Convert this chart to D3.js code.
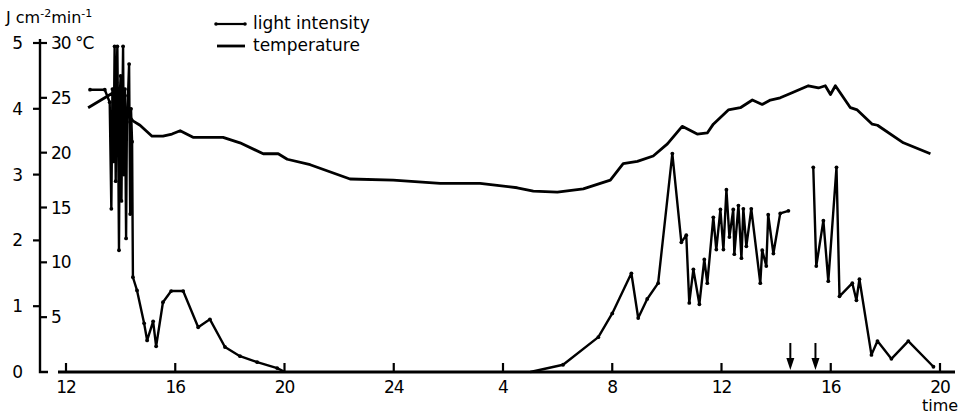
<!DOCTYPE html>
<meta charset="utf-8">
<title>light and temperature</title>
<script src="https://cdn.jsdelivr.net/npm/d3@7"></script>
<style>
  body { margin: 0; background: #fff; }
  text { font-family: "DejaVu Sans", sans-serif; fill: #000; }
</style>
<body>
<script>

// hours counted from noon of day 1 (12 .. 44)
var xTicks = [12, 16, 20, 24, 28, 32, 36, 40, 44];
var lightTicks = [0, 1, 2, 3, 4, 5];
var tempTicks = [5, 10, 15, 20, 25, 30];

// temperature, degrees C
var tempTime = [12.81, 13.68, 14.45, 14.71, 15.15, 15.55, 15.88, 16.18, 16.65, 17.75, 18.37,
  19.22, 19.77, 20.10, 20.94, 22.40, 23.98, 25.70, 27.16, 28.52, 29.11, 29.99, 30.94, 31.93,
  32.40, 32.92, 33.50, 34.02, 34.56, 35.11, 35.48, 35.70, 36.25, 36.69, 37.13, 37.49, 37.79,
  38.15, 38.52, 39.18, 39.55, 39.80, 39.99, 40.17, 40.72, 40.97, 41.52, 41.71, 42.66, 43.65];
var tempValue = [24.1, 25.4, 22.9, 22.5, 21.5, 21.5, 21.7, 22.0, 21.4, 21.4, 20.9,
  19.9, 19.9, 19.4, 18.9, 17.6, 17.5, 17.2, 17.2, 16.8, 16.5, 16.4, 16.7, 17.5,
  19.0, 19.2, 19.7, 20.8, 22.4, 21.7, 21.8, 22.6, 23.9, 24.1, 24.8, 24.4, 24.8,
  25.0, 25.4, 26.1, 25.9, 26.1, 25.3, 26.1, 24.1, 23.9, 22.6, 22.5, 20.9, 19.9];

// light intensity, J cm-2 min-1 (null = no record)
var lightTime = [12.88, 13.42, 13.60, 13.66, 13.70, 13.74, 13.78, 13.82, 13.85, 13.88, 13.91,
  13.94, 13.97, 14.00, 14.03, 14.06, 14.09, 14.12, 14.16, 14.20, 14.23, 14.27, 14.31, 14.35,
  14.38, 14.42, 14.45, 14.60, 14.86, 14.97, 15.19, 15.30,
  15.55, 15.85, 16.29, 16.84, 17.27, 17.82, 18.37, 19.00, 19.73, 20.02,
  24.5,
  29.0, 30.2, 31.49, 32.0, 32.70, 32.95, 33.28, 33.68, 34.20, 34.53, 34.71, 34.82, 34.97,
  35.19, 35.37, 35.48, 35.70, 35.81, 35.96, 36.07, 36.18, 36.29, 36.43, 36.47, 36.62, 36.73,
  36.80, 36.91, 37.09, 37.42, 37.49, 37.64, 37.71, 37.90, 38.15, 38.45,
  38.9,
  39.36, 39.47, 39.73, 39.91, 40.21, 40.32, 40.79, 40.94, 41.05, 41.49, 41.71, 42.22, 42.84, 43.76];
var lightValue = [4.29, 4.29, 4.1, 2.48, 4.3, 3.2, 4.95, 2.9, 4.4, 4.95, 3.6,
  1.85, 4.2, 4.5, 2.6, 3.9, 4.95, 3.0, 4.3, 2.03, 3.8, 4.2, 4.68, 2.4,
  4.0, 3.5, 1.44, 1.24, 0.74, 0.48, 0.77, 0.39,
  1.06, 1.23, 1.23, 0.68, 0.80, 0.38, 0.24, 0.15, 0.06, 0,
  null,
  0, 0.11, 0.53, 0.89, 1.50, 0.82, 1.11, 1.35, 3.32, 1.97, 2.08, 1.05, 1.56,
  1.03, 1.71, 1.35, 2.35, 1.86, 2.47, 1.86, 2.77, 2.05, 2.47, 1.79, 2.53, 1.73,
  2.48, 1.91, 2.48, 1.35, 1.85, 1.61, 2.39, 1.80, 2.41, 2.45,
  null,
  3.11, 1.61, 2.30, 1.38, 3.11, 1.15, 1.35, 1.09, 1.41, 0.26, 0.47, 0.20, 0.47, 0.08];

var arrowTimes = [38.52, 39.44];

var W = 960, H = 416;
var svg = d3.select("body").append("svg")
  .attr("width", W)
  .attr("height", H);

var x = d3.scaleLinear().domain([12, 44]).range([66, 940]);
var y = d3.scaleLinear().domain([0, 5]).range([372, 43]);
var yT = d3.scaleLinear().domain([0, 30]).range([372, 43]);
var axisX = 40;

// y axis
svg.append("path")
  .attr("d", "M" + axisX + "," + (y(5) - 4) + "V" + y(0) + "H" + (axisX + 8))
  .attr("fill", "none").attr("stroke", "#000").attr("stroke-width", 2.4);

svg.selectAll(".ltick").data(lightTicks.filter(function (d) { return d > 0; }))
  .enter().append("line")
  .attr("x1", axisX - 7).attr("x2", axisX)
  .attr("y1", function (d) { return y(d); }).attr("y2", function (d) { return y(d); })
  .attr("stroke", "#000").attr("stroke-width", 2.2);

svg.selectAll(".llab").data(lightTicks)
  .enter().append("text")
  .attr("x", 23).attr("y", function (d) { return y(d) + 6; })
  .attr("text-anchor", "end").style("font-size", "17px")
  .text(function (d) { return d; });

svg.selectAll(".ttick").data(tempTicks)
  .enter().append("line")
  .attr("x1", axisX).attr("x2", axisX + 7)
  .attr("y1", function (d) { return yT(d); }).attr("y2", function (d) { return yT(d); })
  .attr("stroke", "#000").attr("stroke-width", 2.2);

svg.selectAll(".tlab").data(tempTicks)
  .enter().append("text")
  .attr("x", 51).attr("y", function (d) { return yT(d) + 6; })
  .style("font-size", "17px").style("letter-spacing", "-1px")
  .text(function (d) { return d === 30 ? "30 \u00b0C" : d; });

// x axis
svg.append("line")
  .attr("x1", 58).attr("x2", 955).attr("y1", y(0)).attr("y2", y(0))
  .attr("stroke", "#000").attr("stroke-width", 2.8);

svg.selectAll(".xtick").data(xTicks)
  .enter().append("line")
  .attr("x1", function (d) { return x(d); }).attr("x2", function (d) { return x(d); })
  .attr("y1", y(0)).attr("y2", y(0) - 9)
  .attr("stroke", "#000").attr("stroke-width", 2.2);

svg.selectAll(".xlab").data(xTicks)
  .enter().append("text")
  .attr("x", function (d) { return x(d); }).attr("y", 393)
  .attr("text-anchor", "middle").style("font-size", "17px").style("letter-spacing", "-1px")
  .text(function (d) { return d === 24 ? 24 : d % 24; });

svg.append("text").attr("x", 940).attr("y", 411)
  .attr("text-anchor", "middle").style("font-size", "16px").text("time");

// unit label
var unit = svg.append("text").attr("x", 6).attr("y", 23).style("font-size", "16px");
unit.append("tspan").text("J cm");
unit.append("tspan").attr("dy", -6).style("font-size", "11px").text("-2");
unit.append("tspan").attr("dy", 6).text("min");
unit.append("tspan").attr("dy", -6).style("font-size", "11px").text("-1");

// lines
var tempData = tempTime.map(function (t, i) { return [t, tempValue[i]]; });
var lightData = lightTime.map(function (t, i) { return [t, lightValue[i]]; });

svg.append("path").datum(tempData)
  .attr("d", d3.line().x(function (d) { return x(d[0]); }).y(function (d) { return yT(d[1]); }))
  .attr("fill", "none").attr("stroke", "#000").attr("stroke-width", 2.8)
  .attr("stroke-linejoin", "round");

svg.append("path").datum(lightData)
  .attr("d", d3.line().defined(function (d) { return d[1] !== null; })
    .x(function (d) { return x(d[0]); }).y(function (d) { return y(d[1]); }))
  .attr("fill", "none").attr("stroke", "#000").attr("stroke-width", 2.4)
  .attr("stroke-linejoin", "round");

svg.selectAll(".dot").data(lightData.filter(function (d) { return d[1] !== null && d[1] > 0; }))
  .enter().append("circle")
  .attr("cx", function (d) { return x(d[0]); }).attr("cy", function (d) { return y(d[1]); })
  .attr("r", 1.9).attr("fill", "#000");

// arrows
arrowTimes.forEach(function (t) {
  svg.append("line")
    .attr("x1", x(t)).attr("x2", x(t)).attr("y1", 343).attr("y2", 362)
    .attr("stroke", "#000").attr("stroke-width", 2);
  svg.append("path")
    .attr("d", "M" + (x(t) - 4) + ",358L" + (x(t) + 4) + ",358L" + x(t) + ",370Z")
    .attr("fill", "#000");
});

// legend
svg.append("line").attr("x1", 216).attr("x2", 245).attr("y1", 24).attr("y2", 24)
  .attr("stroke", "#000").attr("stroke-width", 2.2);
svg.selectAll(".ldot").data([216, 245]).enter().append("circle")
  .attr("cx", function (d) { return d; }).attr("cy", 24).attr("r", 1.8).attr("fill", "#000");
svg.append("text").attr("x", 253).attr("y", 29).style("font-size", "17px").text("light intensity");

svg.append("line").attr("x1", 217).attr("x2", 245).attr("y1", 46).attr("y2", 46)
  .attr("stroke", "#000").attr("stroke-width", 2.8);
svg.append("text").attr("x", 253).attr("y", 51).style("font-size", "17px").text("temperature");

</script>
